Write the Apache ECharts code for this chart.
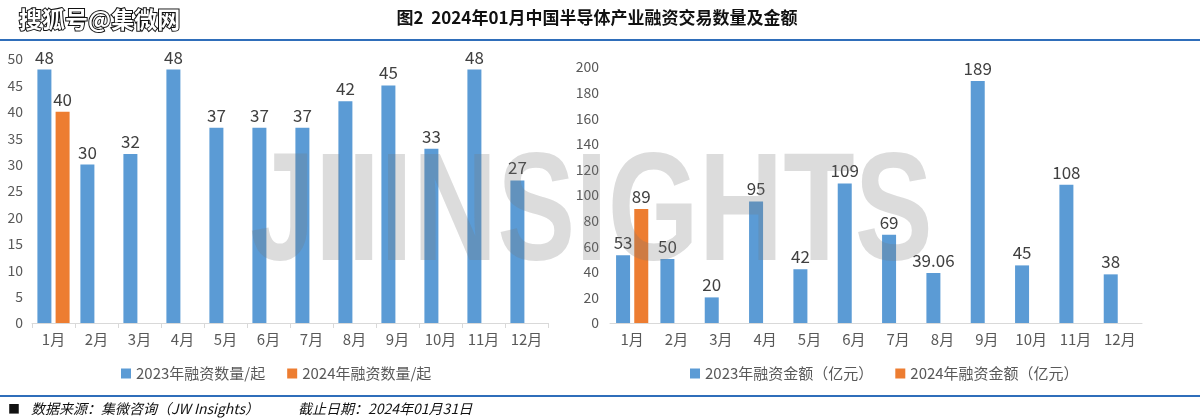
<!DOCTYPE html>
<html><head><meta charset="utf-8">
<script src="https://cdn.jsdelivr.net/npm/echarts@6/dist/echarts.min.js"></script>
<style>html,body{margin:0;padding:0;background:#fff}#c{width:1200px;height:420px}</style>
</head><body><div id="c"></div>
<script>
const months = ['1月','2月','3月','4月','5月','6月','7月','8月','9月','10月','11月','12月'];
const count2023 = [48,30,32,48,37,37,37,42,45,33,48,27];
const count2024 = [40];
const amount2023 = [53,50,20,95,42,109,69,39.06,189,45,108,38];
const amount2024 = [89];
const countNames = ['2023年融资数量/起','2024年融资数量/起'];
const amountNames = ['2023年融资金额（亿元）','2024年融资金额（亿元）'];
const titleText = '图2  2024年01月中国半导体产业融资交易数量及金额';

const BLUE = '#5B9BD5', ORANGE = '#ED7D31';
const FONT = '"Noto Sans CJK SC", "Noto Sans", sans-serif';
const yLabel = {color:'#595959', fontSize:14, fontFamily:FONT};
const xLabel = {color:'#595959', fontSize:15, fontFamily:FONT};
const dataLabel = {show:true, position:'top', distance:4, color:'#404040', fontSize:17, fontFamily:FONT};

function catAxis(gi, ticks){
  return {type:'category', gridIndex:gi, data:months, boundaryGap:true,
    axisLine:{lineStyle:{color:'#d9d9d9', width:1}},
    axisTick:{show:ticks, alignWithLabel:false, length:5, lineStyle:{color:'#d9d9d9'}},
    axisLabel:Object.assign({margin:9}, xLabel)};
}
function valAxis(gi, max, interval, margin){
  return {type:'value', gridIndex:gi, min:0, max:max, interval:interval,
    splitLine:{show:false}, axisLine:{show:false}, axisTick:{show:false},
    axisLabel:Object.assign({margin:margin}, yLabel)};
}
function barSeries(name, data, color, xi){
  return {type:'bar', name:name, data:data, xAxisIndex:xi, yAxisIndex:xi,
    barWidth:14, barGap:'30%', itemStyle:{color:color}, label:dataLabel,
    animation:false};
}

const chart = echarts.init(document.getElementById('c'), null, {renderer:'canvas'});
chart.setOption({
  backgroundColor:'#fff',
  animation:false,
  grid:[
    {left:32, width:516, top:59, bottom:97, containLabel:false},
    {left:610, width:532, top:67, bottom:97, containLabel:false}
  ],
  xAxis:[catAxis(0,true), catAxis(1,false)],
  yAxis:[valAxis(0,50,5,9), valAxis(1,200,20,11)],
  legend:[
    {data:countNames, left:116, top:361, itemWidth:10, itemHeight:10, itemGap:22,
     icon:'rect', textStyle:{color:'#595959', fontSize:15, fontFamily:FONT}},
    {data:amountNames, left:685, top:361, itemWidth:10, itemHeight:10, itemGap:22,
     icon:'rect', textStyle:{color:'#595959', fontSize:15, fontFamily:FONT}}
  ],
  series:[
    barSeries(countNames[0], count2023, BLUE, 0),
    barSeries(countNames[1], count2024, ORANGE, 0),
    barSeries(amountNames[0], amount2023, BLUE, 1),
    barSeries(amountNames[1], amount2024, ORANGE, 1)
  ],
  graphic:[
    {type:'text', left:18, top:7, z:10, style:{text:'搜狐号@集微网', fill:'#fff', stroke:'#111', lineWidth:2,
      font:'bold 23px "Noto Sans CJK SC"'}},
    {type:'text', x:597, y:18, z:10, style:{text:titleText, fill:'#111', align:'center', verticalAlign:'middle',
      font:'bold 17px "Noto Sans CJK SC"'}},
    {type:'rect', shape:{x:0, y:39, width:1200, height:2}, z:10, style:{fill:'#2F6EBA'}},
    {type:'rect', shape:{x:0, y:395, width:1200, height:2}, z:10, style:{fill:'#2F6EBA'}},
    {type:'text', x:8, y:409, z:10, style:{text:'■', fill:'#111', verticalAlign:'middle', font:'12px "Noto Sans CJK SC"'}},
    {type:'text', x:31, y:409, z:10, style:{text:'数据来源：集微咨询（JW Insights）', fill:'#111', verticalAlign:'middle',
      font:'italic 14px "Noto Sans CJK SC"'}},
    {type:'text', x:298, y:409, z:10, style:{text:'截止日期：2024年01月31日', fill:'#111', verticalAlign:'middle',
      font:'italic 14px "Noto Sans CJK SC"'}},
    {type:'text', x:250, y:218, scaleX:0.76, z:100, silent:true,
      style:{text:'JIIINSIGHTS', fill:'rgba(120,120,120,0.26)', verticalAlign:'middle',
      font:'bold 154px "Liberation Sans"'}}
  ]
});
</script></body></html>
